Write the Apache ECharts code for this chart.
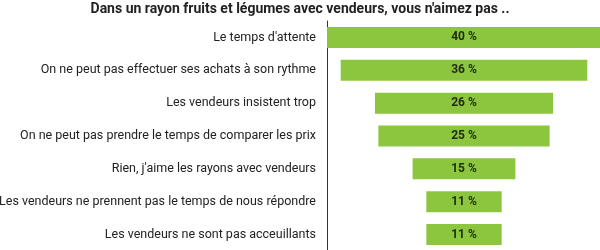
<!DOCTYPE html>
<html>
<head>
<meta charset="utf-8">
<script src="https://cdn.jsdelivr.net/npm/echarts@6/dist/echarts.min.js"></script>
<style>
html,body{margin:0;padding:0;background:#fff;}
#main{width:600px;height:250px;}
</style>
</head>
<body>
<div id="main"></div>
<script>
var titre="Dans un rayon fruits et légumes avec vendeurs, vous n'aimez pas ..";
var categories=[
	"Le temps d'attente",
	"On ne peut pas effectuer ses achats à son rythme",
	"Les vendeurs insistent trop",
	"On ne peut pas prendre le temps de comparer les prix",
	"Rien, j'aime les rayons avec vendeurs",
	"Les vendeurs ne prennent pas le temps de nous répondre",
	"Les vendeurs ne sont pas acceuillants"
];
var valeurs=[40,36,26,25,15,11,11];
var maxVal=40;

//barre invisible pour centrer les barres
var decalage=valeurs.map(function(v){return (maxVal-v)/2;});
var police="Roboto,sans-serif";

var myChart=echarts.init(document.getElementById("main"));
var option={
	animation:false,
	title:{
		text:titre,
		left:"center",
		top:-3,
		textStyle:{
			fontFamily:police,
			fontSize:14,
			fontWeight:"bold",
			color:"#222"
		}
	},
	grid:{
		left:327,
		right:-1,
		top:21,
		bottom:-1,
		outerBoundsMode:"none",
		containLabel:false
	},
	xAxis:{
		type:"value",
		min:0,
		max:maxVal,
		show:false
	},
	yAxis:{
		type:"category",
		inverse:true,
		data:categories,
		axisTick:{show:false},
		axisLine:{
			show:true,
			lineStyle:{color:"#333",width:1}
		},
		axisLabel:{
			margin:11,
			fontFamily:police,
			fontSize:12.5,
			color:"#222"
		}
	},
	series:[
		{
			type:"bar",
			stack:"total",
			silent:true,
			itemStyle:{color:"transparent"},
			barWidth:21,
			data:decalage
		},
		{
			type:"bar",
			stack:"total",
			barWidth:21,
			itemStyle:{color:"#8cc63f"},
			label:{
				show:true,
				position:"inside",
				formatter:"{c} %",
				fontFamily:police,
				fontSize:12,
				fontWeight:"bold",
				color:"#1d2a12"
			},
			data:valeurs
		}
	]
};
myChart.setOption(option);
</script>
</body>
</html>
